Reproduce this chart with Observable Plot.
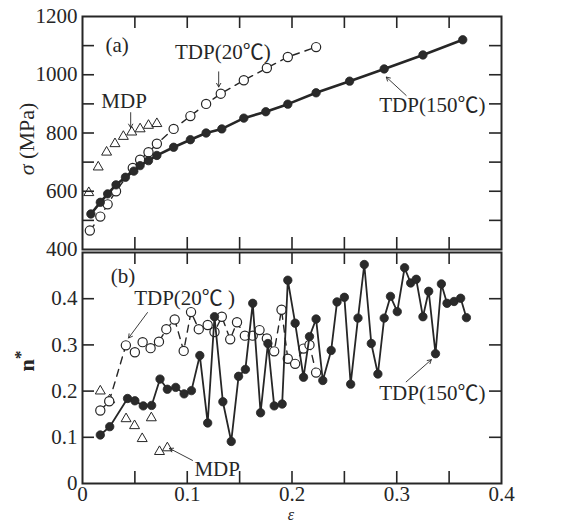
<!DOCTYPE html>
<html><head><meta charset="utf-8">
<script src="https://cdn.jsdelivr.net/npm/d3@7"></script>
<script src="https://cdn.jsdelivr.net/npm/@observablehq/plot@0.6"></script>
<style>
html,body{margin:0;padding:0;background:#fff;}
#chart{position:relative;width:574px;height:525px;}
#chart svg{position:absolute;left:0;}
</style></head>
<body><div id="chart"></div>
<script>
// ---- Panel (a): flow stress sigma (MPa) vs strain epsilon ----
const epsA150 = [0.008,0.017,0.024,0.032,0.041,0.049,0.055,0.063,0.071,0.087,0.103,0.118,0.133,0.154,0.175,0.196,0.223,0.255,0.288,0.325,0.363];
const sigA150 = [522,562,591,622,648,669,688,705,723,751,777,800,814,851,873,899,938,978,1020,1068,1120];
const epsA20 = [0.007,0.017,0.024,0.032,0.048,0.055,0.063,0.071,0.087,0.103,0.118,0.132,0.154,0.176,0.196,0.223];
const sigA20 = [465,513,555,600,680,708,734,763,814,858,900,935,981,1023,1061,1095];
const epsAMDP = [0.006,0.015,0.023,0.031,0.039,0.047,0.055,0.063,0.071];
const sigAMDP = [595,683,734,763,788,803,814,826,832];

// ---- Panel (b): n* vs strain epsilon ----
const epsB150 = [0.017,0.026,0.043,0.050,0.058,0.066,0.074,0.081,0.089,0.097,0.104,0.112,0.1195,0.126,0.134,0.142,0.149,0.1555,0.1625,0.170,0.177,0.183,0.1906,0.196,0.203,0.211,0.2167,0.223,0.2294,0.2374,0.243,0.250,0.256,0.263,0.269,0.2757,0.282,0.288,0.294,0.3005,0.3075,0.3133,0.3186,0.325,0.3305,0.337,0.3426,0.348,0.3547,0.361,0.3665];
const nB150 = [0.105,0.123,0.184,0.179,0.168,0.169,0.226,0.204,0.208,0.194,0.201,0.277,0.131,0.361,0.177,0.091,0.232,0.247,0.39,0.153,0.303,0.168,0.172,0.44,0.347,0.23,0.318,0.356,0.223,0.288,0.393,0.403,0.215,0.358,0.474,0.303,0.237,0.358,0.405,0.372,0.467,0.434,0.442,0.361,0.416,0.281,0.432,0.39,0.394,0.401,0.359];
const epsB20 = [0.017,0.0255,0.0414,0.050,0.0574,0.065,0.073,0.080,0.088,0.0966,0.1036,0.111,0.1195,0.126,0.133,0.141,0.1475,0.155,0.1625,0.169,0.176,0.183,0.19,0.196,0.203,0.211,0.2167,0.223];
const nB20 = [0.158,0.178,0.299,0.284,0.306,0.293,0.307,0.334,0.355,0.287,0.371,0.334,0.343,0.328,0.361,0.312,0.349,0.32,0.32,0.332,0.314,0.286,0.376,0.27,0.259,0.292,0.30,0.24];
const epsBMDP = [0.017,0.026,0.0416,0.0497,0.057,0.0657,0.0735,0.081];
const nBMDP = [0.2,0.181,0.14,0.125,0.097,0.142,0.069,0.077];

// ---- ticks ----
const xMinorTicks = [0.05,0.1,0.15,0.2,0.25,0.3,0.35];
const xLabelTicks = [0,0.1,0.2,0.3,0.4];
const yATicks = [500,600,700,800,900,1000,1100];
const yALabels = [400,600,800,1000,1200];
const yBTicks = [0.1,0.2,0.3,0.4];
const yBLabels = [0,0.1,0.2,0.3,0.4];

// ---- annotations (anchored in data coordinates) ----
const notesA = [
  {t:"(a)", e:0.022, v:1100, a:"start"},
  {t:"TDP(20℃)", e:0.134, v:1077, a:"middle"},
  {t:"MDP", e:0.0397, v:908, a:"middle"},
  {t:"TDP(150℃)", e:0.334, v:894, a:"middle"}
];
const arrowsA = [
  {e1:0.130, v1:1010, e2:0.130, v2:958},
  {e1:0.046, v1:870, e2:0.046, v2:818},
  {e1:0.309, v1:929, e2:0.290, v2:992}
];
const notesB = [
  {t:"(b)", e:0.027, v:0.448, a:"start"},
  {t:"TDP(20℃ )", e:0.0975, v:0.40, a:"middle"},
  {t:"MDP", e:0.1286, v:0.030, a:"middle"},
  {t:"TDP(150℃)", e:0.334, v:0.196, a:"middle"}
];
const arrowsB = [
  {e1:0.062, v1:0.37, e2:0.044, v2:0.315},
  {e1:0.105, v1:0.05, e2:0.083, v2:0.076},
  {e1:0.309, v1:0.22, e2:0.333, v2:0.268}
];

const zip = (xs, ys) => xs.map((x, i) => ({x, y: ys[i]}));
const INK = "#262626";
const FONT = "Liberation Serif, Noto Sans CJK JP, serif";
const W = 574, ML = 82, MR = 73, FW = W - ML - MR, TL = 12;

function panel({height, marginTop, marginBottom, yDomain, yTicks, yLabels, xLabels, series, notes, arrows, titleMarks}) {
  const FH = height - marginTop - marginBottom;
  const marks = [];
  if (series.open) {
    marks.push(Plot.line(series.open, {x:"x", y:"y", stroke:INK, strokeWidth:1.4, strokeDasharray:"7,6"}));
  }
  if (series.tri) {
    marks.push(Plot.dot(series.tri, {x:"x", y:"y", symbol:"triangle", r:3.7, fill:"white", stroke:INK, strokeWidth:1}));
  }
  if (series.open) {
    marks.push(Plot.dot(series.open, {x:"x", y:"y", r:4.6, fill:"white", stroke:INK, strokeWidth:1.2}));
  }
  marks.push(Plot.line(series.filled, {x:"x", y:"y", stroke:INK, strokeWidth:series.lw}));
  marks.push(Plot.dot(series.filled, {x:"x", y:"y", r:4.2, fill:"#2a2a2a", stroke:INK, strokeWidth:0.8}));
  marks.push(Plot.tickY(yTicks, {y:d=>d, insetRight:FW-TL, stroke:INK, strokeWidth:1.6}));
  marks.push(Plot.tickY(yTicks, {y:d=>d, insetLeft:FW-TL, stroke:INK, strokeWidth:1.6}));
  marks.push(Plot.tickX(xMinorTicks, {x:d=>d, insetBottom:FH-TL, stroke:INK, strokeWidth:1.6}));
  marks.push(Plot.tickX(xMinorTicks, {x:d=>d, insetTop:FH-TL, stroke:INK, strokeWidth:1.6}));
  marks.push(Plot.frame({stroke:INK, strokeWidth:2}));
  marks.push(Plot.axisY(yLabels, {tickSize:0, tickPadding:5, tickFormat:d=>`${d}`, label:null, fontSize:21, fontFamily:FONT}));
  if (xLabels) marks.push(Plot.axisX(xLabels, {tickSize:0, tickPadding:3, tickFormat:d=>`${d}`, label:null, fontSize:21, fontFamily:FONT}));
  marks.push(Plot.arrow(arrows, {x1:"e1", y1:"v1", x2:"e2", y2:"v2", stroke:INK, strokeWidth:0.9, headLength:7, bend:0}));
  for (const a of ["start","middle"]) {
    marks.push(Plot.text(notes.filter(n=>n.a===a), {x:"e", y:"v", text:"t", textAnchor:a, fontSize:21, fontFamily:FONT, fill:INK}));
  }
  marks.push(...titleMarks);
  return Plot.plot({
    width: W, height, marginLeft: ML, marginRight: MR, marginTop, marginBottom,
    x: {domain:[0,0.4], axis:null},
    y: {domain:yDomain, axis:null},
    style: {fontFamily: FONT, fontSize:"21px", color: INK, background:"transparent", overflow:"visible"},
    marks
  });
}

const panelA = panel({
  height: 262, marginTop: 16, marginBottom: 13,
  yDomain: [400,1200], yTicks: yATicks, yLabels: yALabels, xLabels: null,
  series: {filled: zip(epsA150, sigA150), open: zip(epsA20, sigA20), tri: zip(epsAMDP, sigAMDP), lw: 2.6},
  notes: notesA, arrows: arrowsA,
  titleMarks: [
    Plot.text(["σ (MPa)"], {frameAnchor:"left", dx:-56, dy:6, rotate:-90, textAnchor:"middle", text:d=>d, fontSize:22, fontFamily:FONT, fill:INK, className:"ytitle-a"})
  ]
});
const panelB = panel({
  height: 275, marginTop: 2, marginBottom: 42,
  yDomain: [0,0.5], yTicks: yBTicks, yLabels: yBLabels, xLabels: xLabelTicks,
  series: {filled: zip(epsB150, nB150), open: zip(epsB20, nB20), tri: zip(epsBMDP, nBMDP), lw: 1.8},
  notes: notesB, arrows: arrowsB,
  titleMarks: [
    Plot.text(["n*"], {frameAnchor:"left", dx:-56, dy:-7, rotate:-90, textAnchor:"middle", text:d=>d, fontSize:22, fontFamily:FONT, fontWeight:"bold", fill:INK, className:"ytitle-b"}),
    Plot.text(["ε"], {x:d=>0.199, frameAnchor:"bottom", dy:36, text:d=>d, fontSize:16, fontFamily:FONT, fontStyle:"italic", fill:INK})
  ]
});
// italic sigma, upright unit
d3.select(panelA).selectAll("g.ytitle-a text").each(function() {
  const t = d3.select(this);
  t.text(null);
  t.append("tspan").attr("font-style", "italic").text("σ");
  t.append("tspan").text(" (MPa)");
});
// superscript star on n
d3.select(panelB).selectAll("g.ytitle-b text").each(function() {
  const t = d3.select(this);
  t.text(null);
  t.append("tspan").text("n");
  t.append("tspan").attr("dy", "-0.45em").attr("font-size", "0.8em").text("*");
});
panelA.style.top = "0px";
panelB.style.top = "250px";
const chart = document.getElementById("chart");
chart.appendChild(panelA);
chart.appendChild(panelB);
</script>
</body></html>
